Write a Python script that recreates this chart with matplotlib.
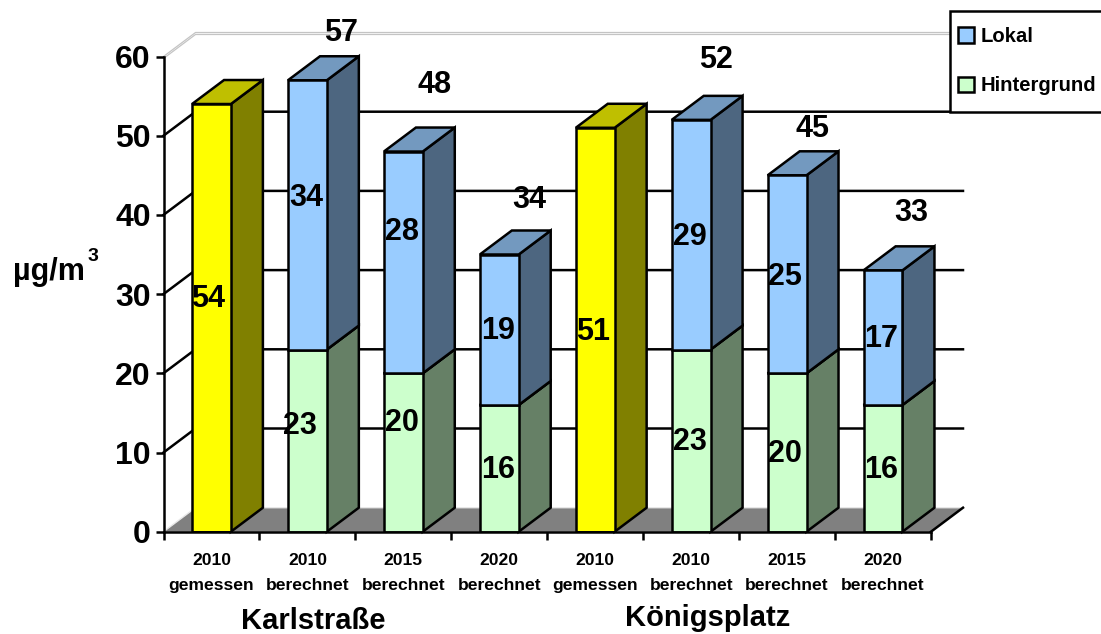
import matplotlib
matplotlib.use('Agg')
import matplotlib.pyplot as plt
from matplotlib.patches import Patch, Polygon, Rectangle

W, H = 1101, 634
plt.rcParams['font.family'] = ['Liberation Sans', 'DejaVu Sans']
plt.rcParams['font.weight'] = 'bold'

years = ['2010', '2010', '2015', '2020', '2010', '2010', '2015', '2020']
kinds = ['gemessen', 'berechnet', 'berechnet', 'berechnet',
         'gemessen', 'berechnet', 'berechnet', 'berechnet']
gemessen = [54, 0, 0, 0, 51, 0, 0, 0]
hintergrund = [0, 23, 20, 16, 0, 23, 20, 16]
lokal = [0, 34, 28, 19, 0, 29, 25, 17]
gesamt = [0, 57, 48, 34, 0, 52, 45, 33]   # printed sums, 2020 Karlstrasse is rounded in the source

# label anchors in image pixels, they sit wherever the original author dragged them
POS_GEMESSEN = [(208, 299), None, None, None, (593, 332), None, None, None]
POS_HINTER = [None, (300, 426), (402, 423), (498, 470), None, (690, 442), (785, 454), (881, 470)]
POS_LOKAL = [None, (306, 198), (402, 232), (498, 331), None, (690, 237), (785, 277), (881, 339)]
POS_GESAMT = [None, (341, 33), (435, 85), (529, 200), None, (716, 60), (813, 129), (911, 213)]

BAR_W = 0.405
DX = 32 / 95.94      # 3D depth in data units
DY = 24 / 7.92
YELLOW = ('#FFFF00', '#808000', '#BFBF00')
BLUE = ('#99CCFF', '#4D6680', '#7399BF')
GREEN = ('#CCFFCC', '#668066', '#99BF99')
LW = 1.8

fig = plt.figure(figsize=(W / 100, H / 100), dpi=100)
ax = fig.add_axes([163.5 / W, 1 - 531.7 / H, 767.5 / W, 475.2 / H])
ax.set_xlim(-0.5, 7.5)
ax.set_ylim(0, 60)
ax.patch.set_visible(False)


def ptext(px, py, s, **kw):
    fig.text(px / W, 1 - py / H, s, ha='center', va='center', **kw)


def depth_faces(i, y0, y1, colors, z):
    x0, x1 = i - BAR_W / 2, i + BAR_W / 2
    ax.add_patch(Polygon([(x1, y0), (x1 + DX, y0 + DY), (x1 + DX, y1 + DY), (x1, y1)],
                         fc=colors[1], ec='black', lw=LW, zorder=z, clip_on=False,
                         joinstyle='miter'))
    ax.add_patch(Polygon([(x0, y1), (x0 + DX, y1 + DY), (x1 + DX, y1 + DY), (x1, y1)],
                         fc=colors[2], ec='black', lw=LW, zorder=z, clip_on=False,
                         joinstyle='miter'))


# floor and back wall
ax.add_patch(Polygon([(-0.5, 0), (-0.5 + DX, DY), (7.5 + DX, DY), (7.5, 0)],
                     fc='#808080', ec='none', zorder=1, clip_on=False))
ax.plot([-0.5, -0.5 + DX, 7.5 + DX], [0, DY, DY], color='#E8E8E8', lw=1, zorder=1.1, clip_on=False)
ax.plot([7.5, 7.5 + DX], [0, DY], color='black', lw=LW, zorder=1.2, clip_on=False)
for v in range(10, 60, 10):
    ax.plot([-0.5, -0.5 + DX, 7.5 + DX], [v, v + DY, v + DY], color='black', lw=LW,
            zorder=1.5, clip_on=False)
for off in (0, 0.25):
    ax.plot([-0.5, -0.5 + DX, 7.5 + DX], [60 - off, 60 + DY - off, 60 + DY - off],
            color='#C4C4C4', lw=0.9, zorder=1.5, clip_on=False)

# bars, left to right
for i in range(len(years)):
    if gemessen[i]:
        depth_faces(i, 0, gemessen[i], YELLOW, 2)
    else:
        depth_faces(i, 0, hintergrund[i], GREEN, 2)
        depth_faces(i, hintergrund[i], hintergrund[i] + lokal[i], BLUE, 2)

ax.bar(range(8), gemessen, BAR_W, color=YELLOW[0], edgecolor='black', lw=LW, zorder=3)
ax.bar(range(8), hintergrund, BAR_W, color=GREEN[0], edgecolor='black', lw=LW, zorder=3)
ax.bar(range(8), lokal, BAR_W, bottom=hintergrund, color=BLUE[0], edgecolor='black', lw=LW, zorder=3)

for s in ('top', 'right'):
    ax.spines[s].set_visible(False)
for s in ('left', 'bottom'):
    ax.spines[s].set_linewidth(LW)
    ax.spines[s].set_zorder(4)

ax.set_yticks(range(0, 70, 10))
ax.tick_params(axis='y', length=6, width=LW, labelsize=23, pad=3)
ax.set_xticks([i - 0.5 for i in range(9)])
ax.set_xticklabels([])
ax.tick_params(axis='x', which='major', length=6, width=LW)
ax.set_xticks(range(8), [f'{y}\n{k}' for y, k in zip(years, kinds)], minor=True,
              fontsize=12.6, linespacing=1.9)
ax.tick_params(axis='x', which='minor', length=0, pad=15)

# value labels
for vals, pos in ((gemessen, POS_GEMESSEN), (hintergrund, POS_HINTER),
                  (lokal, POS_LOKAL), (gesamt, POS_GESAMT)):
    for v, p in zip(vals, pos):
        if p is not None:
            ptext(p[0], p[1], str(v), fontsize=22, zorder=6)

ptext(49, 272, 'µg/m', fontsize=22)
ptext(93, 257, '3', fontsize=14)
ptext(313, 621, 'Karlstraße', fontsize=21)
ptext(708, 618, 'Königsplatz', fontsize=21)

# legend box runs off the right edge of the image
fig.add_artist(Rectangle((950 / W, 1 - 112 / H), 160 / W, 101 / H, transform=fig.transFigure,
                         fc='white', ec='black', lw=LW, zorder=5))
handles = [Patch(fc=BLUE[0], ec='black', lw=LW, label='Lokal'),
           Patch(fc=GREEN[0], ec='black', lw=LW, label='Hintergrund')]
leg = fig.legend(handles=handles, loc='upper left', bbox_to_anchor=(958 / W, 1 - 27 / H),
                 borderaxespad=0, frameon=False, fontsize=14.6,
                 handlelength=0.8, handleheight=0.8, handletextpad=0.3,
                 labelspacing=1.5, borderpad=0)
leg.set_zorder(6)

fig.savefig('out.png', dpi=100)
